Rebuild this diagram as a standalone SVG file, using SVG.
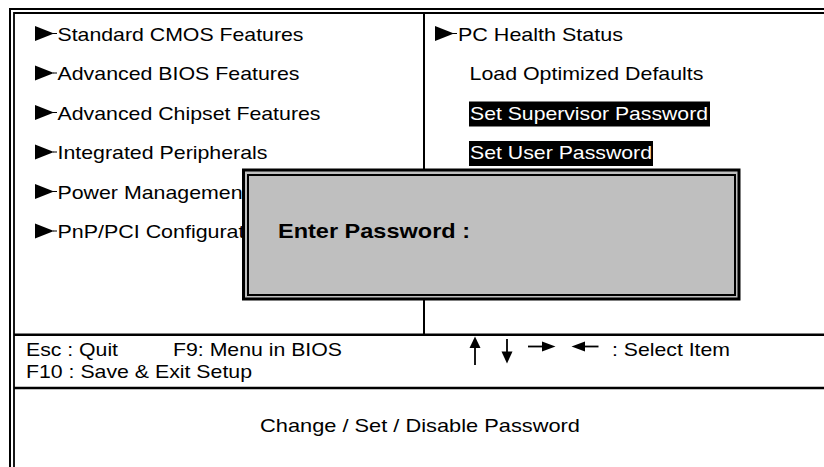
<svg xmlns="http://www.w3.org/2000/svg" width="824" height="467" viewBox="0 0 824 467">
<style>
.t{font-family:"Liberation Sans",Arial,sans-serif;font-size:19px;fill:#000}
.w{fill:#fff}
.b{font-family:"Liberation Sans",Arial,sans-serif;font-size:21px;font-weight:bold;fill:#000}
.ln{stroke:#000;fill:none}
.tri{fill:#000}
</style>
<defs>
<g id="arrowTri">
<polygon points="0,-7.5 0,7.5 19,0"/>
<line x1="18" y1="0" x2="22" y2="0" stroke="#000" stroke-width="1"/>
</g>
</defs>
<rect width="824" height="467" fill="#fff"/>
<g id="frame">
<path class="ln" stroke-width="2" d="M10,467 V9 H824"/>
<path class="ln" stroke-width="1.8" d="M14,467 V13 H824"/>
<line class="ln" stroke-width="2" x1="424" y1="13" x2="424" y2="335"/>
<line class="ln" stroke-width="2.5" x1="14" y1="334.7" x2="824" y2="334.7"/>
<line class="ln" stroke-width="2.5" x1="14" y1="388" x2="824" y2="388"/>
</g>
<g id="item-standard-cmos">
<use href="#arrowTri" x="35" y="33.5"/>
<text class="t" x="57.5" y="40.5" textLength="246" lengthAdjust="spacingAndGlyphs">Standard CMOS Features</text>
</g>
<g id="item-advanced-bios">
<use href="#arrowTri" x="35" y="73"/>
<text class="t" x="57.5" y="80" textLength="242" lengthAdjust="spacingAndGlyphs">Advanced BIOS Features</text>
</g>
<g id="item-advanced-chipset">
<use href="#arrowTri" x="35" y="112.5"/>
<text class="t" x="57.5" y="119.5" textLength="263" lengthAdjust="spacingAndGlyphs">Advanced Chipset Features</text>
</g>
<g id="item-integrated">
<use href="#arrowTri" x="35" y="152"/>
<text class="t" x="57.5" y="159" textLength="210" lengthAdjust="spacingAndGlyphs">Integrated Peripherals</text>
</g>
<g id="item-power">
<use href="#arrowTri" x="35" y="191.5"/>
<text class="t" x="57.5" y="198.5" textLength="185" lengthAdjust="spacingAndGlyphs">Power Managemen</text>
</g>
<g id="item-pnp">
<use href="#arrowTri" x="35" y="231"/>
<text class="t" x="57.5" y="238" textLength="187" lengthAdjust="spacingAndGlyphs">PnP/PCI Configurat</text>
</g>
<g id="item-pc-health">
<use href="#arrowTri" x="435" y="33.5"/>
<text class="t" x="458" y="40.5" textLength="165" lengthAdjust="spacingAndGlyphs">PC Health Status</text>
</g>
<g id="item-load-defaults">
<text class="t" x="469.5" y="80" textLength="234" lengthAdjust="spacingAndGlyphs">Load Optimized Defaults</text>
</g>
<g id="item-supervisor">
<rect x="469" y="101.5" width="241" height="25" fill="#000"/>
<text class="t w" x="470" y="119.5" textLength="238" lengthAdjust="spacingAndGlyphs">Set Supervisor Password</text>
</g>
<g id="item-user">
<rect x="469" y="141" width="184" height="25" fill="#000"/>
<text class="t w" x="470" y="159" textLength="182" lengthAdjust="spacingAndGlyphs">Set User Password</text>
</g>
<g id="dialog">
<rect x="243.5" y="170" width="495.5" height="129" fill="#bfbfbf" stroke="#000" stroke-width="3"/>
<rect x="248" y="175" width="487" height="120" fill="none" stroke="#000" stroke-width="2"/>
<text class="b" x="278" y="238" textLength="192" lengthAdjust="spacingAndGlyphs">Enter Password :</text>
</g>
<g id="footer-keys">
<text class="t" x="26" y="355.5" textLength="92" lengthAdjust="spacingAndGlyphs">Esc : Quit</text>
<text class="t" x="173" y="355.5" textLength="169" lengthAdjust="spacingAndGlyphs">F9: Menu in BIOS</text>
<text class="t" x="26" y="377.5" textLength="226" lengthAdjust="spacingAndGlyphs">F10 : Save &amp; Exit Setup</text>
</g>
<g id="footer-arrows">
<line class="ln" stroke-width="1.8" x1="475" y1="346" x2="475" y2="365"/>
<polygon class="tri" points="475,336.5 469.5,348 480.5,348"/>
<line class="ln" stroke-width="1.8" x1="507" y1="339" x2="507" y2="353"/>
<polygon class="tri" points="501.5,351.5 512.5,351.5 507,363.5"/>
<line class="ln" stroke-width="1.8" x1="528" y1="346.5" x2="544" y2="346.5"/>
<polygon class="tri" points="542,341.5 542,351.5 555.5,346.5"/>
<line class="ln" stroke-width="1.8" x1="584" y1="346.5" x2="598.5" y2="346.5"/>
<polygon class="tri" points="585,341.5 585,351.5 571.5,346.5"/>
<text class="t" x="612" y="356" textLength="118" lengthAdjust="spacingAndGlyphs">: Select Item</text>
</g>
<g id="help">
<text class="t" x="260" y="432" textLength="320" lengthAdjust="spacingAndGlyphs">Change / Set / Disable Password</text>
</g>
</svg>
